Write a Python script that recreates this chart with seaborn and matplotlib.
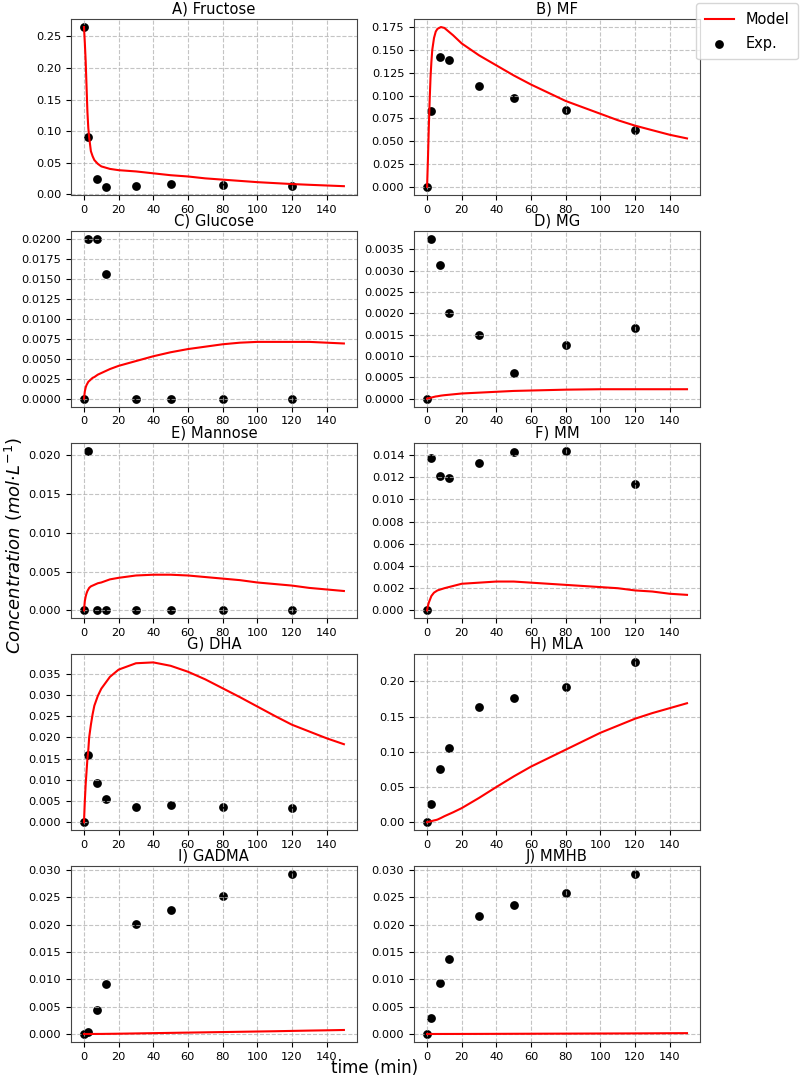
import matplotlib
matplotlib.use("Agg")
import matplotlib.pyplot as plt
from matplotlib.ticker import MaxNLocator
import seaborn as sns

# --- DATA ---
titles = ["A) Fructose", "B) MF", "C) Glucose", "D) MG", "E) Mannose",
          "F) MM", "G) DHA", "H) MLA", "I) GADMA", "J) MMHB"]

t_exp = [0, 2.5, 7.5, 12.5, 30, 50, 80, 120]
t_model = [0, 0.5, 1, 1.5, 2, 2.5, 3, 4, 5, 6, 8, 10, 15, 20, 30, 40, 50,
           60, 70, 80, 90, 100, 110, 120, 130, 140, 150]

exp_fructose = [0.265, 0.0905, 0.0242, 0.0116, 0.0132, 0.0155, 0.0147, 0.0132]
exp_mf = [0.0, 0.0826, 0.142, 0.139, 0.1106, 0.0968, 0.084, 0.0618]
exp_glucose = [0.0, 0.02, 0.02, 0.01554, 0.0, 0.0, 0.0, 0.0]
exp_mg = [0.0, 0.00375, 0.00313, 0.002, 0.0015, 0.00061, 0.00125, 0.00166]
exp_mannose = [0.0, 0.0206, 0.0, 0.0, 0.0, 0.0, 0.0, 0.0]
exp_mm = [0.0, 0.01376, 0.0121, 0.0119, 0.0133, 0.0143, 0.0144, 0.0114]
exp_dha = [0.0, 0.0158, 0.0093, 0.0054, 0.0037, 0.0041, 0.0035, 0.0034]
exp_mla = [0.0, 0.0255, 0.0757, 0.105, 0.163, 0.177, 0.192, 0.227]
exp_gadma = [0.0, 0.00037, 0.0043, 0.0092, 0.0201, 0.0227, 0.0252, 0.0292]
exp_mmhb = [0.0, 0.0029, 0.0093, 0.0137, 0.0215, 0.0236, 0.0257, 0.0292]

mod_fructose = [0.265, 0.24, 0.21, 0.17, 0.13, 0.105, 0.09, 0.068, 0.06, 0.054,
                0.048, 0.044, 0.040, 0.038, 0.036, 0.033, 0.030, 0.028, 0.025,
                0.023, 0.021, 0.019, 0.0175, 0.016, 0.0148, 0.0137, 0.0126]
mod_mf = [0.0, 0.03, 0.065, 0.095, 0.12, 0.137, 0.15, 0.163, 0.17, 0.173,
          0.175, 0.174, 0.166, 0.157, 0.144, 0.133, 0.122, 0.112, 0.103,
          0.094, 0.087, 0.080, 0.073, 0.067, 0.062, 0.057, 0.053]
mod_glucose = [0.0, 0.0009, 0.0014, 0.0017, 0.0019, 0.0021, 0.0022, 0.0024,
               0.0026, 0.0027, 0.003, 0.0032, 0.0037, 0.0041, 0.0047, 0.0053,
               0.0058, 0.0062, 0.0065, 0.0068, 0.0070, 0.0071, 0.0071, 0.0071,
               0.0071, 0.0070, 0.0069]
mod_mg = [0.0, 0.000005, 0.00001, 0.000015, 0.00002, 0.000025, 0.00003,
          0.00004, 0.00005, 0.000055, 0.00007, 0.00008, 0.0001, 0.00012,
          0.00014, 0.00016, 0.00018, 0.00019, 0.0002, 0.00021, 0.000215,
          0.00022, 0.00022, 0.00022, 0.00022, 0.00022, 0.00022]
mod_mannose = [0.0, 0.0012, 0.0018, 0.0022, 0.0025, 0.0027, 0.0029, 0.0031,
               0.0032, 0.0033, 0.0035, 0.0036, 0.004, 0.0042, 0.0045, 0.0046,
               0.0046, 0.0045, 0.0043, 0.0041, 0.0039, 0.0036, 0.0034, 0.0032,
               0.0029, 0.0027, 0.0025]
mod_mm = [0.0, 0.0004, 0.0007, 0.0009, 0.0011, 0.0013, 0.0014, 0.0016, 0.0017,
          0.0018, 0.0019, 0.002, 0.0022, 0.0024, 0.0025, 0.0026, 0.0026,
          0.0025, 0.0024, 0.0023, 0.0022, 0.0021, 0.002, 0.0018, 0.0017,
          0.0015, 0.0014]
mod_dha = [0.0, 0.005, 0.009, 0.012, 0.015, 0.017, 0.02, 0.023, 0.0255, 0.0275,
           0.0298, 0.0315, 0.0343, 0.036, 0.0375, 0.0377, 0.0369, 0.0355,
           0.0337, 0.0316, 0.0295, 0.0273, 0.0251, 0.023, 0.0214, 0.0198, 0.0184]
mod_mla = [0.0, 0.0003, 0.0006, 0.0009, 0.0012, 0.0015, 0.0018, 0.0025, 0.003,
           0.0037, 0.006, 0.0085, 0.014, 0.02, 0.0345, 0.05, 0.065, 0.079,
           0.091, 0.103, 0.115, 0.127, 0.137, 0.147, 0.155, 0.162, 0.169]
mod_gadma = [0.0, 0.0, 0.0, 0.0, 0.000001, 0.000001, 0.000002, 0.000003,
             0.000004, 0.000005, 0.000008, 0.00001, 0.00003, 0.00005, 0.0001,
             0.00015, 0.0002, 0.00025, 0.0003, 0.00035, 0.0004, 0.00045,
             0.0005, 0.00056, 0.00062, 0.00067, 0.00073]
mod_mmhb = [0.0, 0.0, 0.0, 0.0, 0.0, 0.0, 0.000001, 0.000001, 0.000002,
            0.000002, 0.000003, 0.000004, 0.000006, 0.000009, 0.000015,
            0.000025, 0.000035, 0.000045, 0.000055, 0.000065, 0.000075,
            0.000085, 0.000095, 0.000105, 0.00012, 0.000135, 0.00015]

exp_data = [exp_fructose, exp_mf, exp_glucose, exp_mg, exp_mannose,
            exp_mm, exp_dha, exp_mla, exp_gadma, exp_mmhb]
mod_data = [mod_fructose, mod_mf, mod_glucose, mod_mg, mod_mannose,
            mod_mm, mod_dha, mod_mla, mod_gadma, mod_mmhb]

# --- PLOT ---
fig, axes = plt.subplots(5, 2, figsize=(8.01, 10.82), dpi=100)
fig.subplots_adjust(left=0.0886, right=0.8739, top=0.9824, bottom=0.037,
                    wspace=0.2, hspace=0.205)

for ax, title, y_exp, y_mod in zip(axes.flat, titles, exp_data, mod_data):
    sns.lineplot(x=t_model, y=y_mod, color="red", linewidth=1.5, ax=ax,
                 legend=False)
    sns.scatterplot(x=t_exp, y=y_exp, color="black", s=40, linewidth=0,
                    ax=ax, legend=False)
    ax.set_title(title, fontsize=10.6, pad=4)
    ax.grid(True, linestyle="--", alpha=0.75)
    ax.tick_params(labelsize=8.2)
    ax.set_xticks(range(0, 141, 20))
    ax.yaxis.set_major_locator(MaxNLocator(nbins=9, steps=[1, 2, 2.5, 5, 10]))
    for sp in ax.spines.values():
        sp.set_edgecolor("#444444")

ax0 = axes.flat[0]
fig.legend(handles=[ax0.lines[0], ax0.collections[-1]], labels=["Model", "Exp."],
           loc="upper right", bbox_to_anchor=(0.9963, 0.997),
           borderaxespad=0, fontsize=10.5, borderpad=0.6, labelspacing=0.6)

fig.text(0.018, 0.496, r"$Concentration\ (mol{\cdot}L^{-1})$", rotation=90,
         ha="center", va="center", fontsize=13)
fig.text(0.468, 0.013, "time (min)", ha="center", va="center", fontsize=12)

fig.savefig("out.png", dpi=100)
